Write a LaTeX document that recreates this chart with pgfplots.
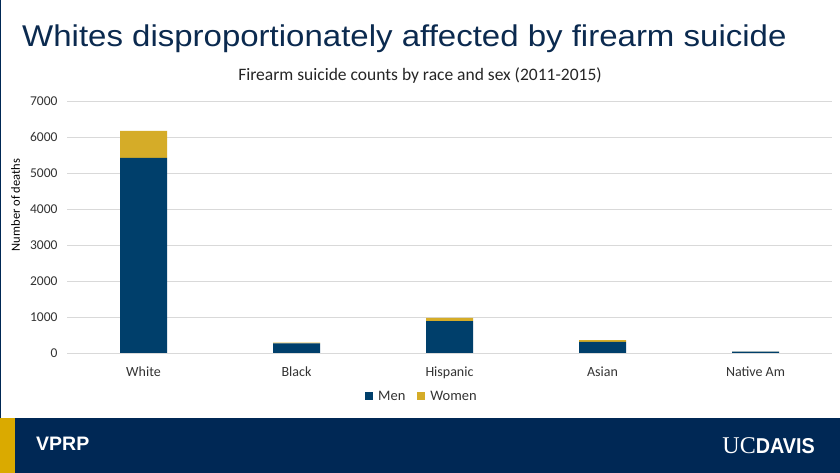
\documentclass[border=0pt]{standalone}
\usepackage{pgfplots}
\pgfplotsset{compat=1.18}
\usepackage{fontspec}
\setmainfont{Carlito}
\newfontfamily\arial{Liberation Sans}
\newfontfamily\serifuc{Liberation Serif}
\definecolor{menblue}{HTML}{003F6B}
\definecolor{womengold}{HTML}{D5AC28}
\definecolor{titleblue}{HTML}{0B2A4F}
\definecolor{banner}{HTML}{002855}
\definecolor{bannergold}{HTML}{DAAA00}
\definecolor{gridgray}{HTML}{D9D9D9}
\begin{document}
\begin{tikzpicture}[x=1pt,y=1pt]
  % slide background
  \useasboundingbox (0,0) rectangle (840,473);
  \fill[white] (0,0) rectangle (840,473);
  \draw[banner, line width=1pt] (0.5,0) -- (0.5,473);
  \node[anchor=base west, inner sep=0pt, text=titleblue, font=\arial\fontsize{30}{33}\selectfont] at (22,426) {\scalebox{1.1}[1]{Whites disproportionately affected by firearm suicide}};
  \node[anchor=base, font=\fontsize{17.5}{19}\selectfont, text=black!85] at (420,392) {Firearm suicide counts by race and sex (2011-2015)};

  \begin{axis}[
      at={(67pt,120pt)}, anchor=south west,
      scale only axis,
      width=765pt, height=252pt,
      ybar stacked,
      bar width=47pt,
      xmin=-0.5, xmax=4.5,
      ymin=0, ymax=7000,
      xtick=data,
      xticklabels={White, Black, Hispanic, Asian, Native Am},
      ytick={0,1000,...,7000},
      ymajorgrids,
      grid style={gridgray, line width=0.8pt},
      axis line style={draw=none},
      major tick length=0pt,
      xticklabel style={font=\fontsize{14}{16}\selectfont, text=black!80, yshift=-10pt},
      yticklabel style={font=\fontsize{13.5}{15}\selectfont, text=black!80, xshift=-6pt},
      /pgf/number format/assume math mode=true,
      /pgf/number format/1000 sep={},
      ylabel={Number of deaths},
      ylabel style={font=\fontsize{12.5}{14}\selectfont, at={(axis description cs:-0.057,0.587)}, anchor=south},
      legend style={draw=none, at={(0.464,-0.135)}, anchor=north, legend columns=2,
                    font=\fontsize{14.5}{16}\selectfont, text=black!80,
                    /tikz/every even column/.style={column sep=10pt}},
      legend image code/.code={\fill[#1] (0pt,-3pt) rectangle (8pt,5pt); \path (11pt,0pt);},
      clip=false,
  ]
    \addplot[fill=menblue, draw=none] coordinates {(0,5420) (1,265) (2,885) (3,310) (4,35)};
    \addplot[fill=womengold, draw=none] coordinates {(0,750) (1,22) (2,90) (3,50) (4,5)};
    \legend{Men, Women}
  \end{axis}

  % footer banner
  \fill[banner] (0,0) rectangle (840,55);
  \fill[bannergold] (0,0) rectangle (15,55);
  \node[anchor=base west, inner sep=0pt, text=white, font=\arial\bfseries\fontsize{19.5}{21}\selectfont] at (36,22) {VPRP};
  \node[anchor=base east, inner sep=0pt, text=white] at (815,19) {{\serifuc\fontsize{24}{26}\selectfont UC}{\arial\bfseries\fontsize{21.5}{23}\selectfont\scalebox{0.92}[1]{DAVIS}}};
\end{tikzpicture}
\end{document}
